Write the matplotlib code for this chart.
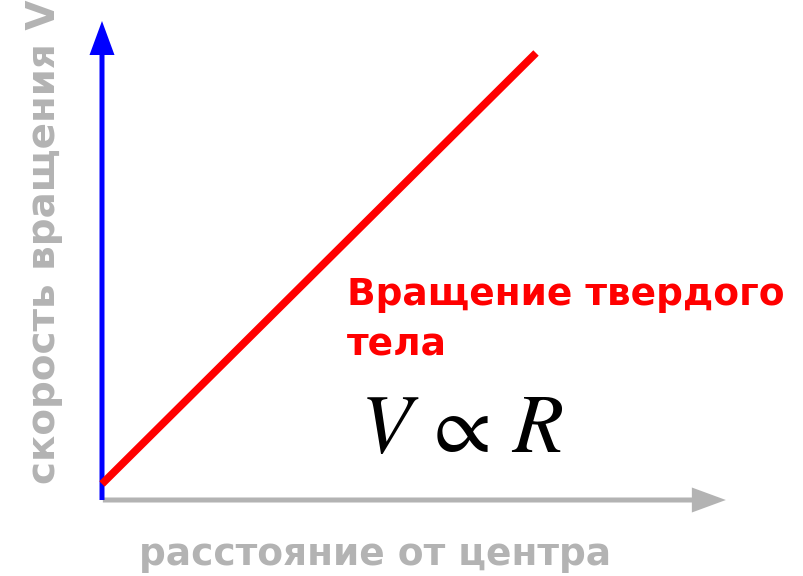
import matplotlib.pyplot as plt

plt.rcParams['font.family'] = ['DejaVu Sans']
plt.rcParams['mathtext.fontset'] = 'stix'

# data: solid body rotation, V grows linearly with R
R = [0.0, 10.0]
V = [0.37, 10.3]

x_label = 'расстояние от центра'
y_label = 'скорость вращения V'
curve_lines = ['Вращение твердого', 'тела']
formula = r'$V\,\propto\,R$'

gray = '#b3b3b3'
scale = 43.4  # pixels per data unit

fig = plt.figure(figsize=(8.04, 5.76), dpi=100)
ax = fig.add_axes([0, 0, 1, 1])
ax.set_xlim(-102 / scale, (804 - 102) / scale)
ax.set_ylim(-(576 - 500) / scale, 500 / scale)
ax.axis('off')

# axes arrows
ax.arrow(0.02, 0, (726 - 103) / scale, 0, width=5 / scale, head_width=25 / scale,
         head_length=34 / scale, length_includes_head=True, color=gray, lw=0, zorder=1)
ax.arrow(0, 0, 0, (500 - 21) / scale, width=5 / scale, head_width=25 / scale,
         head_length=34 / scale, length_includes_head=True, color='blue', lw=0, zorder=2)

ax.plot(R, V, color='red', lw=5.5, solid_capstyle='butt', zorder=3)

for i, line in enumerate(curve_lines):
    ax.text((347 - 102) / scale, (500 - 305 - 50 * i) / scale, line, color='red',
            fontsize=27, fontweight='bold', ha='left', va='baseline')
ax.text((360 - 102) / scale, (500 - 452) / scale, formula, fontsize=60,
        ha='left', va='baseline')

ax.text((375 - 102) / scale, (500 - 565) / scale, x_label, color=gray, fontsize=27,
        fontweight='bold', ha='center', va='baseline')
ax.text((44 - 102) / scale, (500 - 242) / scale, y_label, color=gray, fontsize=28,
        fontweight='bold', ha='center', va='center', rotation=90)

fig.savefig('out.png', dpi=100)
